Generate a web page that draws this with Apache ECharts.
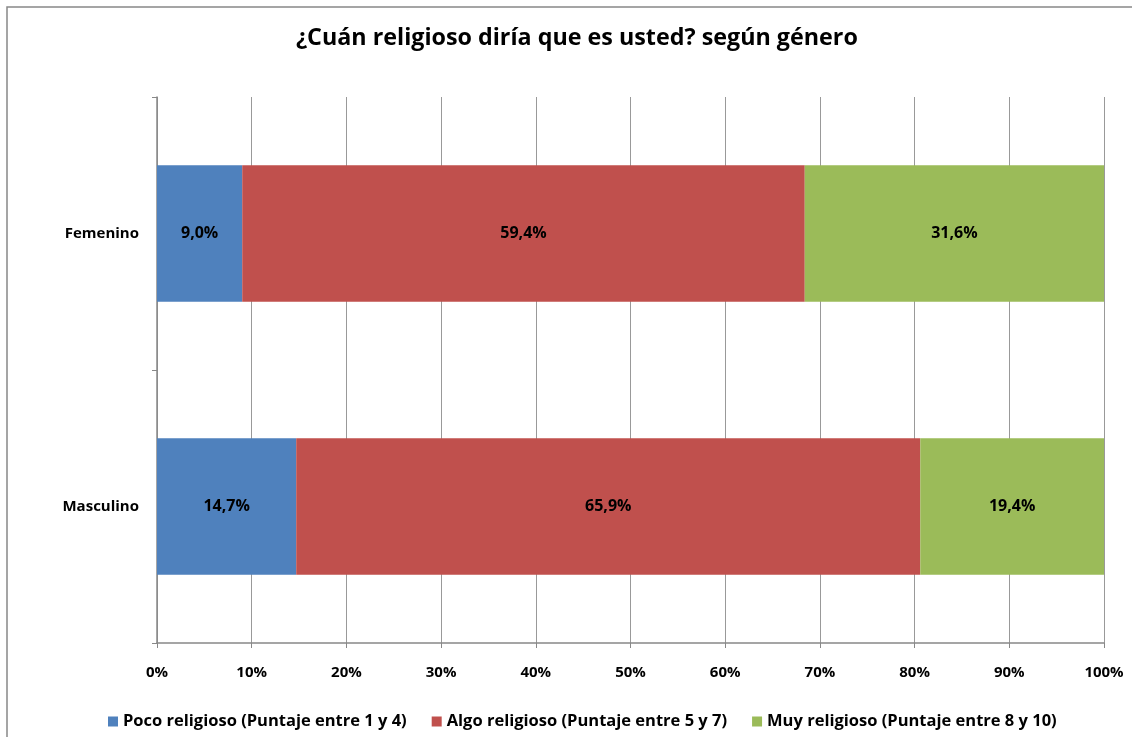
<!DOCTYPE html>
<html>
<head>
<meta charset="utf-8">
<script src="https://cdn.jsdelivr.net/npm/echarts@6/dist/echarts.min.js"></script>
<style>
html,body{margin:0;padding:0;background:#fff;}
#chart{width:1132px;height:737px;}
</style>
</head>
<body>
<div id="chart"></div>
<script>
const categories = ['Femenino', 'Masculino'];
const seriesNames = ['Poco religioso (Puntaje entre 1 y 4)', 'Algo religioso (Puntaje entre 5 y 7)', 'Muy religioso (Puntaje entre 8 y 10)'];
const poco = [9.0, 14.7];
const algo = [59.4, 65.9];
const muy = [31.6, 19.4];
const colors = ['#4F81BD', '#C0504D', '#9BBB59'];
const FONT = 'Open Sans';

const chart = echarts.init(document.getElementById('chart'));
const values = [poco, algo, muy];
const series = values.map((v, i) => ({
  name: seriesNames[i],
  type: 'bar',
  stack: 'total',
  barWidth: '50%',
  data: v,
  itemStyle: { color: colors[i] },
  label: {
    show: true,
    position: 'inside',
    formatter: p => p.value.toFixed(1).replace('.', ',') + '%',
    color: '#000',
    fontFamily: FONT,
    fontWeight: 'bold',
    fontSize: 16
  }
}));

chart.setOption({
  animation: false,
  backgroundColor: '#fff',
  title: {
    text: '¿Cuán religioso diría que es usted? según género',
    left: 291,
    top: 22,
    textStyle: { fontFamily: FONT, fontWeight: 'bold', fontSize: 23.3, color: '#000' }
  },
  graphic: [{
    type: 'rect',
    shape: { x: 7, y: 7, width: 1140, height: 750 },
    style: { fill: 'none', stroke: '#888', lineWidth: 1.5 },
    silent: true
  }],
  legend: {
    top: 708,
    left: 103,
    itemGap: 25,
    itemWidth: 10,
    itemHeight: 10,
    icon: 'rect',
    textStyle: { fontFamily: FONT, fontWeight: 'bold', fontSize: 16.5, color: '#000' }
  },
  grid: { left: 157, right: 28, top: 97, bottom: 94 },
  xAxis: {
    type: 'value',
    min: 0, max: 100, interval: 10,
    axisLabel: { formatter: '{value}%', fontFamily: FONT, fontWeight: 'bold', fontSize: 15, color: '#000', margin: 22 },
    axisLine: { show: true, lineStyle: { color: '#888', width: 1.5 } },
    axisTick: { show: true, length: 5, lineStyle: { color: '#888' } },
    splitLine: { show: true, lineStyle: { color: '#999', width: 1 } }
  },
  yAxis: {
    type: 'category',
    inverse: true,
    data: categories,
    axisLine: { show: true, lineStyle: { color: '#888', width: 1.5 } },
    axisTick: { show: true, length: 5, lineStyle: { color: '#888' } },
    axisLabel: { fontFamily: FONT, fontWeight: 'bold', fontSize: 15, color: '#000', margin: 18 }
  },
  series: series
});
</script>
</body>
</html>
